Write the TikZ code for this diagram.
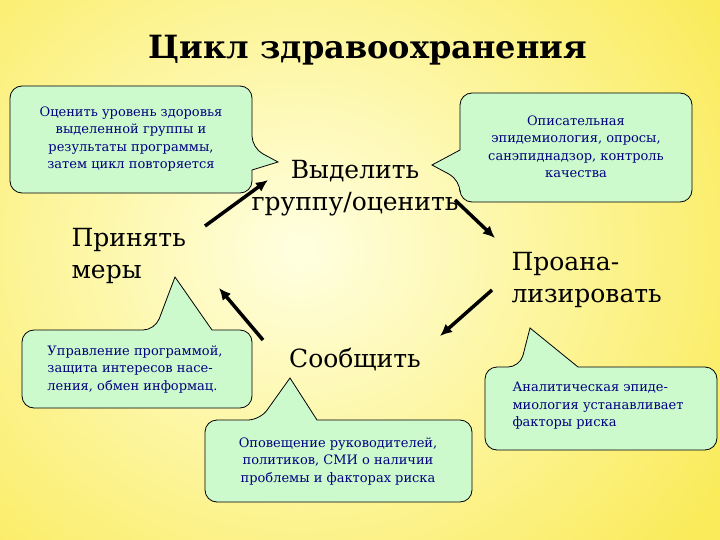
\documentclass[tikz,border=0pt]{standalone}
\usepackage{fontspec}
\usetikzlibrary{arrows.meta}
\setmainfont{DejaVu Serif}
\newfontfamily\tnr{DejaVu Serif}
\begin{document}
\begin{tikzpicture}[x=1pt,y=-1pt,
  callout/.style={draw=black,fill=calfill,line width=0.8pt,rounded corners=12pt},
  ctext/.style={text=navy,font=\tnr\fontsize{13}{17.5}\selectfont,align=center},
  big/.style={font=\tnr\fontsize{25}{32}\selectfont},
  arr/.style={line width=3.5pt,-{Latex[length=12pt,width=11pt]}}]
\definecolor{calfill}{RGB}{204,250,204}
\definecolor{navy}{RGB}{0,0,128}
\definecolor{bgin}{RGB}{255,255,225}
\definecolor{bgout}{RGB}{250,235,90}
\useasboundingbox (0,0) rectangle (720,540);
\shade[inner color=bgin,outer color=bgout] (-200,-200) rectangle (800,700);
\node[font=\tnr\bfseries\fontsize{32}{40}\selectfont] (title) at (368,50) {Цикл здравоохранения};
% callouts
\draw[callout] (10,86) -- (252,86) -- (252,148) [sharp corners]-- (278,162) -- (252,170) [rounded corners=12pt]-- (252,193) -- (10,193) -- cycle;
\node[ctext] (c1) at (131,139) {Оценить уровень здоровья\\выделенной группы и\\результаты программы,\\затем цикл повторяется};
\draw[callout] (460,93) -- (692,93) -- (692,202) -- (460,202) -- (460,180) [sharp corners]-- (432,165) -- (460,150) [rounded corners=12pt]-- cycle;
\node[ctext] (c2) at (576,147) {Описательная\\эпидемиология, опросы,\\санэпиднадзор, контроль\\качества};
\draw[callout] (22,330) -- (155,330) [sharp corners]-- (175,277) -- (212,330) [rounded corners=12pt]-- (252,330) -- (252,408) -- (22,408) -- cycle;
\node[ctext,align=left] (c3) at (135,369) {Управление программой,\\защита интересов насе-\\ления, обмен информац.};
\draw[callout] (205,420) -- (260,420) [sharp corners]-- (290,378) -- (317,420) [rounded corners=12pt]-- (472,420) -- (472,502) -- (205,502) -- cycle;
\node[ctext] (c4) at (338,461) {Оповещение руководителей,\\политиков, СМИ о наличии\\проблемы и факторах риска};
\draw[callout] (485,367) -- (520,367) [sharp corners]-- (530,328) -- (578,367) [rounded corners=12pt]-- (717,367) -- (717,450) -- (485,450) -- cycle;
\node[ctext,align=left] (c5) at (598,406) {Аналитическая эпиде-\\миология устанавливает\\факторы риска};
% labels
\node[big,align=center] (sel) at (355,188) {Выделить\\группу/оценить};
\node[big,align=left,anchor=west] (pr) at (68,256) {Принять\\меры};
\node[big,align=left,anchor=west] (an) at (508,280) {Проана-\\лизировать};
\node[big] (so) at (355,360) {Сообщить};
% arrows
\coordinate (a1s) at (205,226); \coordinate (a1e) at (268,180);
\coordinate (a2s) at (455,200); \coordinate (a2e) at (495,238);
\coordinate (a3s) at (492,290); \coordinate (a3e) at (440,336);
\coordinate (a4s) at (263,340); \coordinate (a4e) at (219,288);
\draw[arr] (a1s) -- (a1e);
\draw[arr] (a2s) -- (a2e);
\draw[arr] (a3s) -- (a3e);
\draw[arr] (a4s) -- (a4e);
\end{tikzpicture}
\end{document}
